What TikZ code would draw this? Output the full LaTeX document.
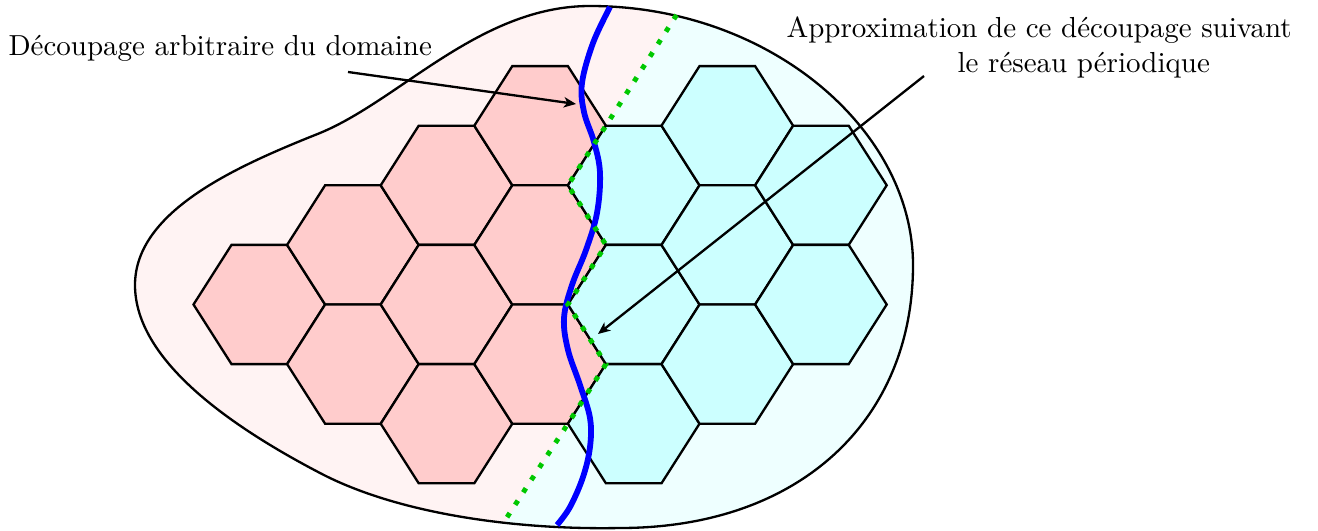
\documentclass[tikz,border=0pt]{standalone}
\usepackage{xcolor}
\usepackage{tikz}
\usetikzlibrary{arrows.meta}

\definecolor{vertdecoupe}{RGB}{0,200,0}
\definecolor{rosehex}{RGB}{255,204,204}
\definecolor{rosefond}{RGB}{255,243,243}
\definecolor{cyanhex}{RGB}{204,255,255}
\definecolor{cyanfond}{RGB}{238,255,255}
\tikzset{
  hexrose/.style={draw=black, thick, fill=rosehex},
  hexcyan/.style={draw=black, thick, fill=cyanhex},
  coupure/.style={blue, line width=2pt},
  approx/.style={vertdecoupe, line width=1.7pt, dash pattern=on 1.7pt off 3.4pt},
  fleche/.style={-{Stealth[length=4.2pt, width=3.6pt, inset=1.2pt]}, thick},
  legende/.style={inner sep=0pt},
}
% hexagone centre sur la colonne #1, rangee #2
\newcommand{\hexa}[3]{%
  \draw[#3, shift={({259.3+93.6*(#1)},{304.5-59.6*(#2)})}]
    (-65.8,0) -- (-27.8,-59.6) -- (27.8,-59.6) -- (65.8,0)
    -- (27.8,59.6) -- (-27.8,59.6) -- cycle;}
\newcommand{\contour}{(590,6) .. controls (770,6) and (913,130) .. (913,265)
  .. controls (913,420) and (800,528) .. (620,528)
  .. controls (520,530) and (400,515) .. (320,473)
  .. controls (230,426) and (135,360) .. (135,285)
  .. controls (135,210) and (240,165) .. (320,133)
  .. controls (400,100) and (480,6) .. (590,6) -- cycle}

\begin{document}
\begin{tikzpicture}[x=0.345pt, y=-0.345pt]
\useasboundingbox (0,0) rectangle (1318,531);

% sommets de la ligne brisee
\coordinate (z0) at (676.5,15);
\coordinate (z1) at (605.9,125.7);
\coordinate (z2) at (567.9,185.3);
\coordinate (z3) at (605.9,244.9);
\coordinate (z4) at (567.9,304.5);
\coordinate (z5) at (605.9,364.1);
\coordinate (z6) at (567.9,423.7);
\coordinate (z7) at (502,525);

% fond du domaine
\fill[cyanfond] \contour;
\begin{scope}
  \clip \contour;
  \fill[rosefond] (0,-10) -- (691.5,-10) -- (z1) -- (z2) -- (z3) -- (z4)
    -- (z5) -- (z6) -- (494.1,540) -- (0,540) -- cycle;
\end{scope}
\draw[thick] \contour;

% reseau periodique
\foreach \i/\j in {0/0, 1/1, 1/-1, 2/2, 2/0, 2/-2, 3/3, 3/1, 3/-1}
  \hexa{\i}{\j}{hexrose};
\foreach \i/\j in {4/2, 4/0, 4/-2, 5/3, 5/1, 5/-1, 6/2, 6/0}
  \hexa{\i}{\j}{hexcyan};

% decoupage arbitraire
\draw[coupure] plot[smooth, tension=0.6] coordinates {
  (610,7) (593,43) (582,83) (584,112) (594,142) (600,173) (597,213)
  (586,250) (572,285) (564,318) (568,350) (580,385) (590,418)
  (590,447) (583,477) (570,507) (557,525)};

% approximation
\draw[approx] (z0) -- (z1) -- (z2) -- (z3) -- (z4) -- (z5) -- (z6) -- (z7);

% legendes
\node[legende, anchor=base west] (arbitraire) at (8,56)
  {D\'ecoupage arbitraire du domaine};
\node[legende, anchor=north west, align=left] (periodique) at (786,16)
  {Approximation de ce d\'ecoupage suivant\\
   \hspace*{59pt}le r\'eseau p\'eriodique};
\coordinate (a1) at (348,72);
\coordinate (b1) at (576,104);
\coordinate (a2) at (924,76);
\coordinate (b2) at (598,334);
\draw[fleche] (a1) -- (b1);
\draw[fleche] (a2) -- (b2);
\end{tikzpicture}
\end{document}
